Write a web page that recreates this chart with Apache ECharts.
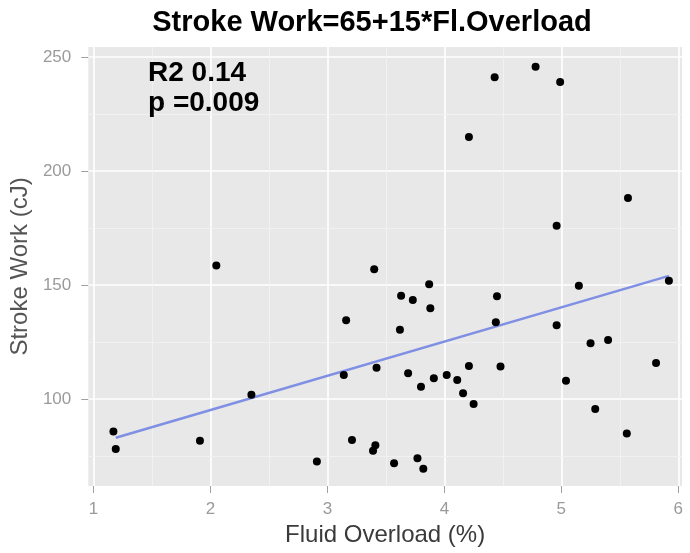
<!DOCTYPE html>
<html>
<head>
<meta charset="utf-8">
<script src="https://cdn.jsdelivr.net/npm/echarts@6/dist/echarts.min.js"></script>
<style>
  html, body { margin: 0; padding: 0; background: #fff; }
  #main { width: 690px; height: 553px; }
</style>
</head>
<body>
<div id="main"></div>
<script>
// fluid overload (%) vs stroke work (cJ)
const fluidOverload = [1.17, 1.19, 1.91, 2.05, 2.35, 2.91, 3.14, 3.16, 3.21, 3.40, 3.41, 3.39, 3.42, 3.57,
  3.63, 3.62, 3.69, 3.73, 3.77, 3.80, 3.82, 3.87, 3.88, 3.91, 4.02, 4.11, 4.16, 4.21, 4.21, 4.25,
  4.43, 4.45, 4.44, 4.48, 4.78, 4.96, 4.99, 4.96, 5.04, 5.15, 5.25, 5.29, 5.40, 5.56, 5.57, 5.81, 5.92]
const strokeWork = [85.7, 78.0, 81.7, 158.5, 101.8, 72.5, 110.5, 134.5, 82.0, 156.9, 79.7, 77.3, 113.7, 71.8,
  145.3, 130.4, 111.3, 143.4, 74.0, 105.3, 69.4, 150.3, 139.8, 109.1, 110.5, 108.3, 102.5, 214.9, 114.5, 97.8,
  241.1, 145.0, 133.6, 114.2, 245.7, 176.0, 239.0, 132.3, 108.0, 149.6, 124.4, 95.6, 125.9, 84.8, 188.2, 115.8, 151.9]

// fitted line end points (Stroke Work = 65 + 15 * Fl.Overload)
const fitX = [1.19, 5.92]
const fitY = [83, 154]

const xTicks = [1, 2, 3, 4, 5, 6]
const yTicks = [100, 150, 200, 250]
const xMinor = [1.5, 2.5, 3.5, 4.5, 5.5]
const yMinor = [75, 125, 175, 225]

const font = 'Liberation Sans'
var chart = echarts.init(document.getElementById('main'), null, { renderer: 'canvas' })

var points = fluidOverload.map((x, i) => [x, strokeWork[i]])
var fitLine = fitX.map((x, i) => [x, fitY[i]])
var minorLines = xMinor.map(v => ({ xAxis: v })).concat(yMinor.map(v => ({ yAxis: v })))

var option = {
  backgroundColor: '#fff',
  animation: false,
  grid: {
    left: 88, right: 8, top: 47, bottom: 67,
    show: true,
    backgroundColor: '#e8e8e8',
    borderWidth: 0
  },
  graphic: [
    {
      type: 'text', x: 372, y: 8, z: 100,
      style: { text: 'Stroke Work=65+15*Fl.Overload', font: 'bold 29px "Liberation Sans"', fill: '#000', align: 'center', textAlign: 'center' }
    },
    {
      type: 'text', x: 148, y: 59, z: 100,
      style: { text: 'R2 0.14', font: 'bold 28px "Liberation Sans"', fill: '#000' }
    },
    {
      type: 'text', x: 148, y: 89, z: 100,
      style: { text: 'p =0.009', font: 'bold 28px "Liberation Sans"', fill: '#000' }
    }
  ],
  xAxis: {
    type: 'value',
    min: 0.955,
    max: 6.032,
    name: 'Fluid Overload (%)',
    nameLocation: 'middle',
    nameGap: 34,
    nameTextStyle: { fontFamily: font, fontSize: 24, color: '#3a3a3a' },
    axisLine: { show: false },
    axisTick: { show: true, length: 7, customValues: xTicks, lineStyle: { color: '#a0a0a0' } },
    axisLabel: { customValues: xTicks, margin: 15, fontFamily: font, fontSize: 17, color: '#9a9a9a' },
    splitLine: { show: true, lineStyle: { color: '#fff', width: 1.6 } }
  },
  yAxis: {
    type: 'value',
    min: 61.8,
    max: 254.4,
    name: 'Stroke Work (cJ)',
    nameLocation: 'middle',
    nameRotate: 90,
    nameGap: 49,
    nameTextStyle: { fontFamily: font, fontSize: 24, color: '#555' },
    axisLine: { show: false },
    axisTick: { show: true, length: 7, customValues: yTicks, lineStyle: { color: '#a0a0a0' } },
    axisLabel: { customValues: yTicks, margin: 17, fontFamily: font, fontSize: 17, color: '#9a9a9a' },
    splitLine: { show: true, lineStyle: { color: '#fff', width: 1.6 } }
  },
  series: [
    {
      // minor grid
      type: 'scatter',
      data: [],
      z: 1,
      silent: true,
      markLine: {
        z: 1,
        silent: true,
        symbol: 'none',
        label: { show: false },
        lineStyle: { color: '#f3f3f3', width: 0.8, type: 'solid' },
        data: minorLines
      }
    },
    {
      type: 'line',
      data: fitLine,
      z: 3,
      symbol: 'none',
      lineStyle: { color: '#7f8fe4', width: 2.5 }
    },
    {
      type: 'scatter',
      data: points,
      z: 4,
      symbolSize: 8,
      itemStyle: { color: '#000', opacity: 1 }
    }
  ]
}

chart.setOption(option)
</script>
</body>
</html>
